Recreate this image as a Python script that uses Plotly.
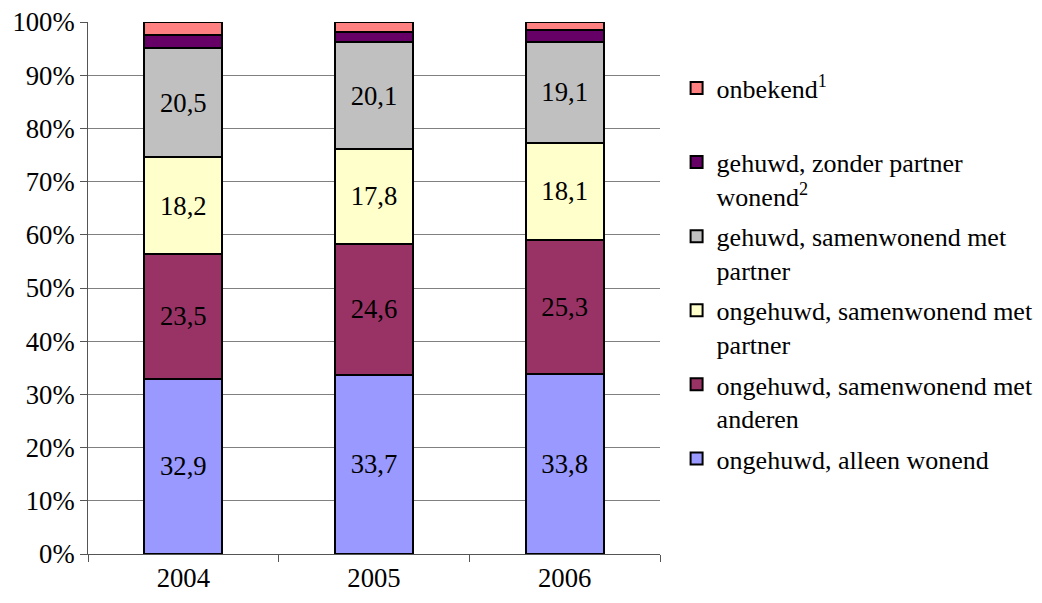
import plotly.graph_objects as go

years = ["2004", "2005", "2006"]
series_names = [
    "ongehuwd, alleen wonend",
    "ongehuwd, samenwonend met<br>anderen",
    "ongehuwd, samenwonend met<br>partner",
    "gehuwd, samenwonend met<br>partner",
    "gehuwd, zonder partner<br>wonend<sup>2</sup>",
    "onbekend<sup>1</sup><br> ",
]
alleen = [32.9, 33.7, 33.8]
anderen = [23.5, 24.6, 25.3]
ongehuwd_partner = [18.2, 17.8, 18.1]
gehuwd_partner = [20.5, 20.1, 19.1]
gehuwd_zonder = [2.4, 1.9, 2.2]
onbekend = [2.5, 1.9, 1.5]
series_values = [alleen, anderen, ongehuwd_partner, gehuwd_partner, gehuwd_zonder, onbekend]
show_labels = [True, True, True, True, False, False]
colors = ["#9999FF", "#993366", "#FFFFCC", "#C0C0C0", "#660066", "#FF8080"]

FONT = "Liberation Serif"
FS = 26.7
LEG_FS = 26

fig = go.Figure()
n = len(series_names)
for i, (name, vals, lab, col) in enumerate(zip(series_names, series_values, show_labels, colors)):
    kw = {}
    if lab:
        kw = dict(
            text=[f"{v:.1f}".replace(".", ",") for v in vals],
            textposition="inside",
            insidetextanchor="middle",
            textangle=0,
            constraintext="none",
            textfont=dict(family=FONT, size=FS, color="black"),
        )
    fig.add_trace(go.Bar(
        x=years, y=vals, name=name, legendgroup=f"g{i}", legendrank=n - i,
        marker=dict(color=col, line=dict(color="black", width=2)),
        hoverinfo="skip",
        **kw,
    ))

fig.update_layout(
    barmode="stack",
    bargap=0.59,
    width=1026, height=587,
    margin=dict(l=80, r=374, t=14, b=41, autoexpand=False),
    paper_bgcolor="white", plot_bgcolor="white",
    font=dict(family=FONT, size=FS, color="black"),
    showlegend=True,
    legend=dict(
        x=1.029, y=0.92, xanchor="left", yanchor="top",
        traceorder="grouped",
        valign="top",
        font=dict(family=FONT, size=LEG_FS, color="black"),
        itemwidth=30,
        tracegroupgap=3.5,
        bgcolor="rgba(0,0,0,0)",
    ),
)
fig.update_yaxes(
    range=[0, 100], tickvals=[0, 10, 20, 30, 40, 50, 60, 70, 80, 90, 100],
    ticktext=[f"{v}%" for v in range(0, 101, 10)],
    showgrid=True, gridcolor="#808080", gridwidth=1,
    showline=True, linecolor="#555555", linewidth=1,
    ticks="outside", ticklen=7, tickcolor="#555555",
    zeroline=False, automargin=False,
    ticklabeloverflow="allow",
    tickfont=dict(family=FONT, size=FS),
)
fig.update_xaxes(
    showline=True, linecolor="#555555", linewidth=1,
    ticks="outside", ticklen=7, tickcolor="#555555",
    tickson="boundaries", automargin=False,
    ticklabeloverflow="allow",
    tickfont=dict(family=FONT, size=FS),
)

fig.write_html("out.html")
